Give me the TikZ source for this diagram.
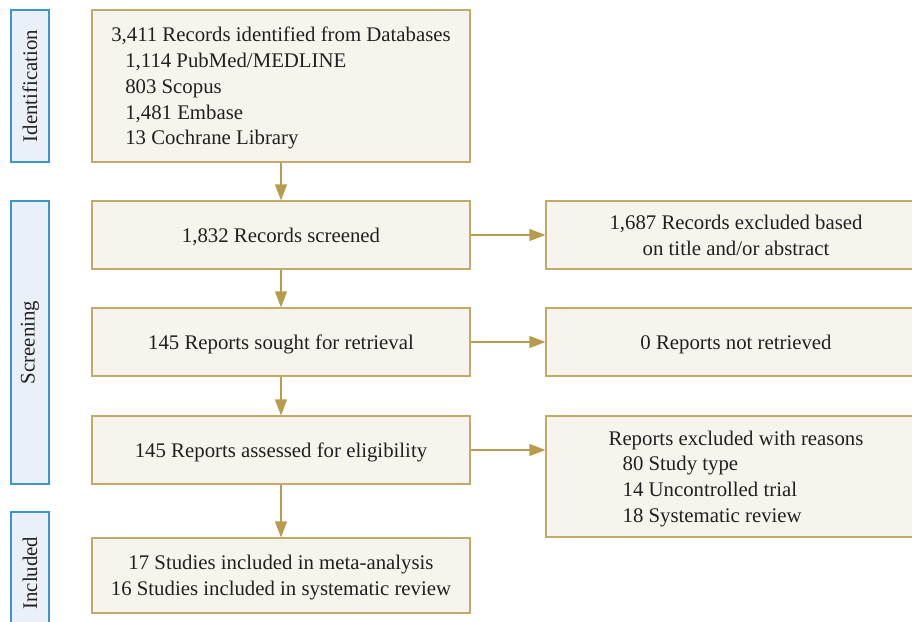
\documentclass[tikz,border=0pt]{standalone}
\usepackage{fontspec}
\setmainfont{Liberation Serif}
\usetikzlibrary{arrows.meta}
\definecolor{boxfill}{HTML}{F7F4EE}
\definecolor{boxline}{HTML}{C4AA6A}
\definecolor{arrowcol}{HTML}{B89C4E}
\definecolor{sidefill}{HTML}{EAF0F8}
\definecolor{sideline}{HTML}{3E95CD}
\definecolor{txt}{HTML}{231F20}
\newcommand{\ind}{\hspace*{14pt}}

\begin{document}
\begin{tikzpicture}[x=1pt, y=-1pt,
    every node/.style={font=\fontsize{20.8}{25.75}\selectfont, text=txt},
    stage/.style={draw=boxline, fill=boxfill, line width=1.2pt, inner sep=0pt, text depth=0pt, minimum width=378pt, minimum height=68pt},
    sidebar/.style={draw=sideline, fill=sidefill, line width=1.2pt, inner sep=0pt, minimum height=38pt, rotate=90},
    flow/.style={draw=arrowcol, line width=1.2pt, -{Triangle[length=16pt,width=12pt]}}]
      \useasboundingbox (0,0) rectangle (912,621);
      \clip (0,0) rectangle (912,621);
      % Phase bars
      \node[sidebar, minimum width=152pt] (sideid) at (30,86) {Identification};
      \node[sidebar, minimum width=283pt] (sidescr) at (30,342.5) {Screening};
      \node[sidebar, minimum width=122pt] (sideinc) at (30,573) {Included};
      % Main column
      \node[stage, minimum height=152pt, align=left] (ident) at (281,86)
        {3,411 Records identified from Databases\\\ind1,114 PubMed/MEDLINE\\\ind803 Scopus\\\ind1,481 Embase\\\ind13 Cochrane Library};
      \node[stage] (screen) at (281,235) {1,832 Records screened};
      \node[stage] (sought) at (281,342) {145 Reports sought for retrieval};
      \node[stage] (assess) at (281,450) {145 Reports assessed for eligibility};
      \node[stage, minimum height=75pt, align=center] (incl) at (281,575.5)
        {17 Studies included in meta-analysis\\16 Studies included in systematic review};
      % Exclusions
      \node[stage, minimum width=380pt, align=center] (excl) at (736,235)
        {1,687 Records excluded based\\on title and/or abstract};
      \node[stage, minimum width=380pt] (notret) at (736,342) {0 Reports not retrieved};
      \node[stage, minimum width=380pt, minimum height=121pt, align=left] (reasons) at (736,476.5)
        {Reports excluded with reasons\\\ind80 Study type\\\ind14 Uncontrolled trial\\\ind18 Systematic review};
      % Arrows
      \draw[flow] (ident) -- (screen);
      \draw[flow] (screen) -- (sought);
      \draw[flow] (sought) -- (assess);
      \draw[flow] (assess) -- (incl);
      \draw[flow] (screen) -- (excl);
      \draw[flow] (sought) -- (notret);
      \draw[flow] (assess.east) -- (assess.east -| reasons.west);
\end{tikzpicture}
\end{document}
